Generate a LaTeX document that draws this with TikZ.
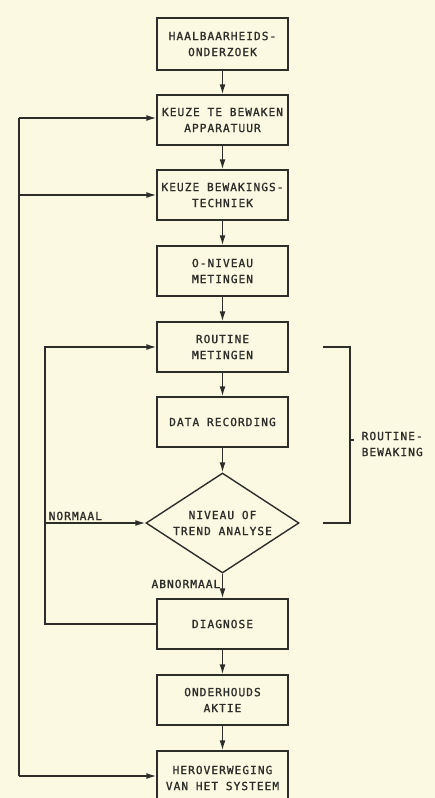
\documentclass[tikz,border=0pt]{standalone}
\usepackage{fontspec}
\newfontfamily\plotfont[LetterSpace=9,FakeBold=1.3]{DejaVu Sans Mono}
\usetikzlibrary{arrows.meta,shapes.geometric}
\definecolor{paper}{RGB}{251,249,226}
\definecolor{ink}{RGB}{45,45,42}
\begin{document}
\begin{tikzpicture}[x=1pt,y=-1pt,
  line width=1.4pt, draw=ink,
  txt/.style={text=ink,font=\plotfont\fontsize{11.2}{16}\selectfont},
  stepbox/.style={txt,draw=ink,line width=1.4pt,minimum width=131pt,minimum height=50pt,inner sep=0pt,align=center},
  decide/.style={txt,draw=ink,line width=1.4pt,diamond,aspect=1.53,minimum width=153pt,minimum height=100pt,inner sep=0pt,align=center},
  arr/.style={draw=ink,-{Latex[length=10pt,width=6pt]}},
  wire/.style={draw=ink}]
\fill[paper] (0,0) rectangle (435,798);
\useasboundingbox (0,0) rectangle (435,798);

\node[stepbox,minimum height=52pt] (b1) at (222.5,44) {HAALBAARHEIDS-\\ONDERZOEK};
\node[stepbox] (b2) at (222.5,120) {KEUZE TE BEWAKEN\\APPARATUUR};
\node[stepbox] (b3) at (222.5,195) {KEUZE BEWAKINGS-\\TECHNIEK};
\node[stepbox] (b4) at (222.5,271) {O-NIVEAU\\METINGEN};
\node[stepbox] (b5) at (222.5,347) {ROUTINE\\METINGEN};
\node[stepbox] (b6) at (222.5,422) {DATA RECORDING};
\node[decide] (d) at (222.5,523) {NIVEAU OF\\TREND ANALYSE};
\node[stepbox] (b7) at (222.5,624) {DIAGNOSE};
\node[stepbox] (b8) at (222.5,700) {ONDERHOUDS\\AKTIE};
\node[stepbox,minimum height=54pt] (b9) at (222.5,778) {HEROVERWEGING\\VAN HET SYSTEEM};

\draw[arr] (b1.south) -- (b2.north);
\draw[arr] (b2.south) -- (b3.north);
\draw[arr] (b3.south) -- (b4.north);
\draw[arr] (b4.south) -- (b5.north);
\draw[arr] (b5.south) -- (b6.north);
\draw[arr] (b6.south) -- (d.north);
\draw[arr] (d.south) -- (b7.north);
\draw[arr] (b7.south) -- (b8.north);
\draw[arr] (b8.south) -- (b9.north);

% outer feedback bus
\coordinate (o1) at (19,118);
\coordinate (o2) at (19,195);
\coordinate (o3) at (19,776);
\draw[wire] (o1) -- (o3);
\draw[arr] (o1) -- (b2.west |- o1);
\draw[arr] (o2) -- (b3.west |- o2);
\draw[arr] (o3) -- (b9.west |- o3);

% inner loop
\coordinate (i1) at (45,347);
\coordinate (i2) at (45,624);
\coordinate (i3) at (45,523);
\draw[arr] (b7.west) -- (i2) -- (i1) -- (b5.west);
\draw[arr] (i3) -- (d.west);
\node[txt,anchor=base west,inner sep=0pt] (nl) at (48,520) {NORMAAL};
\node[txt,anchor=base east,inner sep=0pt] (al) at (221,588) {ABNORMAAL};

% bracket
\coordinate (k1) at (323,347);
\coordinate (k2) at (350,347);
\coordinate (k3) at (350,523);
\coordinate (k4) at (323,523);
\coordinate (k5) at (350,440);
\coordinate (k6) at (354,440);
\draw[wire] (k1) -- (k2) -- (k3) -- (k4);
\draw[wire] (k5) -- (k6);
\node[txt,anchor=west,align=left,inner sep=0pt] (rb) at (361,444) {ROUTINE-\\BEWAKING};
\end{tikzpicture}
\end{document}
